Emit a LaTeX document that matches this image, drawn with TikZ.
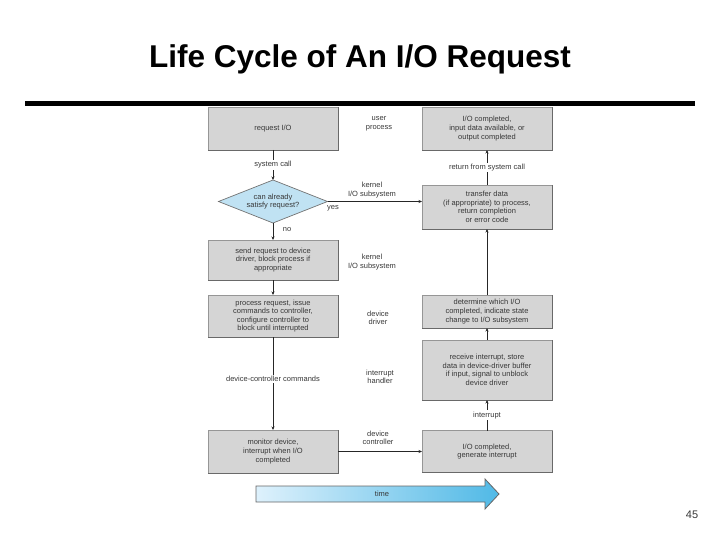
\documentclass[tikz,border=0pt]{standalone}
\usepackage{fontspec}
\setmainfont{Liberation Sans}
\usetikzlibrary{arrows.meta,shapes.geometric}
\definecolor{boxfill}{RGB}{213,213,213}
\definecolor{boxedge}{RGB}{150,150,150}
\definecolor{boxshade}{RGB}{105,105,105}
\definecolor{diafill}{RGB}{192,226,243}
\definecolor{txt}{RGB}{55,55,55}
\definecolor{timeL}{RGB}{222,241,252}
\definecolor{timeR}{RGB}{80,185,230}
\begin{document}
\begin{tikzpicture}[x=1pt,y=-1pt,
  every node/.style={inner sep=0pt, outer sep=0pt},
  small/.style={font=\fontsize{7.5}{8.6}\selectfont, text=txt, align=center},
  iobox/.style={small, draw=boxedge, fill=boxfill, line width=0.7pt, minimum width=130pt},
  decision/.style={small, shape=diamond, aspect=2.5, draw=black!55, fill=diafill, line width=0.7pt, minimum width=109pt, minimum height=43pt},
  conn/.style={line width=0.8pt, draw=black!85, -{Stealth[length=3.5pt,width=3pt]}},
  lbl/.style={small, fill=white, inner sep=1.5pt},
  side/.style={small},
]
\useasboundingbox (0,0) rectangle (720,540);

% title and rule
\node[font=\fontsize{31.5}{34}\selectfont\bfseries, anchor=base] (title) at (360,68) {Life Cycle of An I/O Request};
\coordinate (ruleL) at (25,103.5);
\coordinate (ruleR) at (695,103.5);
\draw[line width=4.5pt] (ruleL) -- (ruleR);

% left column
\node[iobox, minimum height=43pt] (req) at (273,128.5) {request I/O};
\node[decision] (dec) at (273,201.5) {can already\\satisfy request?};
\node[iobox, minimum height=40pt] (send) at (273,260) {send request to device\\driver, block process if\\appropriate};
\node[iobox, minimum height=42pt] (proc) at (273,316) {process request, issue\\commands to controller,\\configure controller to\\block until interrupted};
\node[iobox, minimum height=43pt] (mon) at (273,451.5) {monitor device,\\interrupt when I/O\\completed};

% right column
\node[iobox, minimum height=43pt] (done) at (487,128.5) {I/O completed,\\input data available, or\\output completed};
\node[iobox, minimum height=44pt] (xfer) at (487,207) {transfer data\\(if appropriate) to process,\\return completion\\or error code};
\node[iobox, minimum height=33pt] (det) at (487,311.5) {determine which I/O\\completed, indicate state\\change to I/O subsystem};
\node[iobox, minimum height=60pt] (recv) at (487,370) {receive interrupt, store\\data in device-driver buffer\\if input, signal to unblock\\device driver};
\node[iobox, minimum height=42pt] (gen) at (487,451.5) {I/O completed,\\generate interrupt};

% box shading (bottom/right edges)
\foreach \b in {req,send,proc,mon,done,xfer,det,recv,gen}
  \draw[boxshade, line width=0.9pt] (\b.south west) -- (\b.south east) -- (\b.north east);

% middle labels
\node[side] (l1) at (379,124) {user\\process};
\node[side] (l2) at (372,190) {kernel\\I/O subsystem};
\node[side] (l3) at (372,262) {kernel\\I/O subsystem};
\node[side] (l4) at (378,318) {device\\driver};
\node[side] (l5) at (380,377) {interrupt\\handler};
\node[side] (l6) at (378,438) {device\\controller};
\node[side] (yes) at (333,208.5) {yes};
\node[side] (no) at (287,230) {no};

% connectors
\draw[conn] (req.south) -- node[lbl] {system call} (dec.north);
\draw[conn] (dec.south) -- (send.north);
\draw[conn] (dec.east) -- (dec.east -| xfer.west);
\draw[conn] (send.south) -- (proc.north);
\draw[conn] (proc.south) -- node[lbl, pos=0.45] {device-controller commands} (mon.north);
\draw[conn] (mon.east) -- (mon.east -| gen.west);
\draw[conn] (gen.north) -- node[lbl] {interrupt} (recv.south);
\draw[conn] (recv.north) -- (det.south);
\draw[conn] (det.north) -- (xfer.south);
\draw[conn] (xfer.north) -- node[lbl] {return from system call} (done.south);

% time arrow
\shade[left color=timeL, right color=timeR, draw=black!60, line width=0.8pt]
  (256,486) -- (485,486) -- (485,479) -- (499,494) -- (485,509) -- (485,502) -- (256,502) -- cycle;
\node[small] (time) at (382,494) {time};

% page number
\node[font=\fontsize{11}{13}\selectfont, text=txt, anchor=base] (pg) at (692,518) {45};
\end{tikzpicture}
\end{document}
